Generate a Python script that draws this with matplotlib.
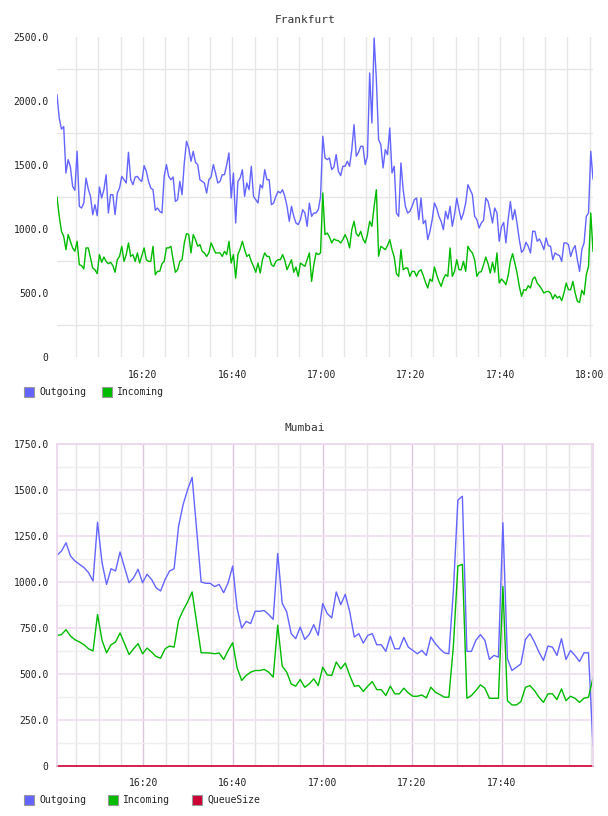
import numpy as np
import pandas as pd
import matplotlib
matplotlib.use("Agg")
import matplotlib.pyplot as plt
import matplotlib.dates as mdates
from matplotlib.patches import Rectangle
from matplotlib.ticker import MultipleLocator, FixedLocator, FuncFormatter

# ==========================
# Frankfurt: 30 s samples, 16:00:45 - 18:00:45
# ==========================
fra_times = pd.date_range("2014-01-01 16:00:45", "2014-01-01 18:00:45", periods=241)

fra_out = [
    2049, 1867, 1780, 1800, 1437, 1542, 1484, 1333, 1302, 1607,
    1177, 1164, 1203, 1398, 1313, 1255, 1112, 1190, 1104, 1328,
    1242, 1307, 1424, 1125, 1268, 1268, 1112, 1281, 1320, 1411,
    1385, 1359, 1599, 1385, 1346, 1406, 1411, 1385, 1372, 1495,
    1450, 1372, 1320, 1307, 1146, 1164, 1138, 1125, 1411, 1503,
    1411, 1385, 1406, 1216, 1229, 1372, 1268, 1516, 1685, 1633,
    1529,
    1607, 1521, 1503, 1385, 1372, 1359, 1281, 1385, 1406, 1503,
    1437, 1359, 1372, 1424, 1424, 1503, 1594, 1242, 1437, 1047,
    1372, 1398, 1463, 1255, 1359, 1307, 1490, 1255, 1229, 1203,
    1346, 1320, 1463, 1385, 1385, 1190, 1203, 1255, 1294, 1281,
    1307, 1255, 1177, 1060, 1177, 1099, 1047, 1034, 1073, 1151,
    1125, 1021, 1203, 1099, 1125, 1125, 1151, 1250, 1724, 1555,
    1542, 1555, 1464, 1484, 1581, 1451, 1417, 1490, 1490, 1529,
    1490, 1620, 1815, 1568, 1599, 1646, 1646, 1503, 1568, 2219,
    1828, 2492, 2167, 1698, 1659, 1477, 1620, 1581, 1789, 1438,
    1490, 1125, 1099, 1516, 1307, 1177, 1125, 1138, 1177, 1229,
    1242, 1073, 1242, 1042, 1068, 917, 982, 1073, 1203, 1164,
    1099, 1060, 995, 1138, 1078, 1177, 1021, 1112, 1242, 1151,
    1073, 1125, 1203, 1346, 1307, 1268, 1099, 1073, 1008, 1047,
    1068, 1242, 1216, 1138, 1047, 1164, 1125, 904, 1016, 1052,
    891, 1073, 1214, 1073, 1151, 1042, 917, 818, 839, 896,
    865, 813, 982, 982, 904, 922, 886, 839, 930, 870,
    865, 760, 813, 800, 792, 747, 891, 891, 878, 786,
    839, 870, 760, 669, 839, 891, 1099, 1125, 1607, 1391,
]

fra_in = [
    1250, 1099, 982, 943, 839, 956, 904, 852, 826, 904,
    721, 714, 688, 852, 852, 773, 695, 682, 651, 800,
    740, 781, 747, 729, 740, 714, 662, 760, 786, 865,
    747, 800, 891, 786, 800, 747, 813, 734, 792, 852,
    760, 747, 747, 865, 643, 669, 669, 729, 747, 852,
    852, 865, 760, 662, 682, 747, 760, 891, 964, 956,
    813,
    956, 917, 865, 878, 826, 813, 786, 813, 891, 852,
    813, 813, 813, 786, 826, 800, 904, 734, 800, 617,
    800, 844, 904, 839, 786, 800, 747, 708, 662, 734,
    656, 760, 813, 786, 786, 721, 708, 747, 760, 760,
    800, 755, 682, 721, 760, 662, 703, 630, 734, 721,
    708, 760, 813, 591, 721, 813, 800, 813, 1281, 956,
    969, 938, 891, 922, 912, 909, 891, 917, 956, 917,
    852, 995, 1060, 964, 943, 982, 922, 891, 956, 1060,
    1021, 1177, 1307, 787, 865, 852, 839, 870, 917, 839,
    779, 651, 630, 839, 682, 695, 695, 630, 669, 669,
    630, 669, 682, 636, 583, 539, 609, 591, 703, 643,
    591, 552, 609, 643, 630, 852, 630, 669, 760, 682,
    682, 747, 669, 865, 833, 813, 760, 630, 662, 667,
    721, 781, 729, 656, 740, 662, 813, 578, 609, 591,
    565, 635, 747, 807, 734, 656, 552, 474, 526, 521,
    557, 539, 609, 625, 578, 557, 531, 500, 510, 513,
    500, 453, 487, 461, 474, 440, 500, 578, 526, 526,
    591, 500, 435, 427, 521, 487, 643, 708, 1125, 826,
]

# ==========================
# Mumbai: ~1 min samples
# ==========================
mum_times = pd.date_range("2014-01-01 16:00:41", "2014-01-01 18:00:26", periods=120)

mum_out = [
    1146, 1168, 1213, 1141, 1114, 1096, 1078, 1051, 1005, 1325,
    1105, 987, 1072, 1060, 1163, 1078, 996, 1023, 1069, 996,
    1042, 1014, 969, 951, 1014, 1060, 1072, 1304, 1421, 1502,
    1569, 1285, 1000, 993, 993, 975, 987, 942, 996, 1087,
    855, 750, 786, 774, 841, 841, 845, 823, 797, 1155,
    885, 837, 719, 692, 755, 688, 715, 768, 710, 883,
    828, 805, 946, 877, 933, 837, 701, 719, 668, 710,
    719, 659, 659, 623, 705, 637, 637, 699, 646, 628,
    610, 628, 601, 701, 665, 637, 615, 610, 950, 1445,
    1466, 623, 623, 683, 714, 683, 579, 601, 592, 1322,
    583, 519, 537, 555, 688, 719, 674, 619, 574, 652,
    646, 601, 692, 579, 628, 601, 568, 615, 615, 110,
]

mum_in = [
    710, 714, 741, 706, 686, 674, 659, 637, 625, 823,
    683, 615, 659, 674, 723, 665, 606, 637, 665, 610,
    641, 619, 595, 586, 637, 652, 646, 792, 846, 892,
    946, 780, 615, 615, 614, 610, 614, 579, 628, 670,
    532, 465, 492, 510, 519, 519, 525, 510, 483, 765,
    543, 510, 446, 434, 470, 428, 446, 474, 437, 537,
    495, 492, 565, 528, 559, 492, 434, 437, 405, 434,
    459, 415, 415, 383, 434, 392, 392, 423, 397, 379,
    379, 386, 370, 428, 401, 388, 374, 374, 650, 1087,
    1096, 368, 383, 410, 441, 423, 368, 368, 368, 975,
    355, 332, 332, 350, 428, 437, 410, 374, 346, 392,
    392, 361, 419, 355, 379, 368, 346, 368, 374, 479,
]

mum_queue = [0] * 120

top_ticks = ["16:20", "16:40", "17:00", "17:20", "17:40", "18:00"]
bottom_ticks = ["16:20", "16:40", "17:00", "17:20", "17:40"]

BLUE = "#6464ff"
GREEN = "#00bb00"
RED = "#cc0033"
FONT = "DejaVu Sans Mono"

W, H = 608, 816
fig = plt.figure(figsize=(W / 100, H / 100), dpi=100)


def px_axes(l, t, r, b):
    return fig.add_axes([l / W, 1 - b / H, (r - l) / W, (b - t) / H])


def fmt_y(v, pos):
    return "0" if v == 0 else f"{v:.1f}"


def tick_times(labels):
    return [mdates.date2num(pd.Timestamp("2014-01-01 " + s)) for s in labels]


def legend_row(y, entries):
    for x, label, color in entries:
        fig.add_artist(Rectangle((x / W, 1 - (y + 5) / H), 10 / W, 10 / H,
                                 facecolor=color, edgecolor="#999999", lw=0.8,
                                 transform=fig.transFigure))
        fig.text((x + 15) / W, 1 - y / H, label, va="center", ha="left",
                 fontsize=7, family=FONT, color="#222222")


# ==========================
# Frankfurt
# ==========================
ax1 = px_axes(57, 37, 593, 357)
ax1.plot(fra_times, fra_out, color=BLUE, lw=1.0)
ax1.plot(fra_times, fra_in, color=GREEN, lw=1.0)
ax1.set_xlim(fra_times[0], fra_times[-1])
ax1.set_ylim(0, 2500)
ax1.yaxis.set_major_locator(MultipleLocator(500))
ax1.yaxis.set_minor_locator(FixedLocator([250, 750, 1250, 1750, 2250]))
ax1.yaxis.set_major_formatter(FuncFormatter(fmt_y))
ax1.xaxis.set_major_locator(FixedLocator(tick_times(top_ticks)))
ax1.xaxis.set_minor_locator(mdates.MinuteLocator(byminute=range(0, 60, 5)))
ax1.xaxis.set_major_formatter(mdates.DateFormatter("%H:%M"))
ax1.grid(which="minor", axis="y", color="#e6e6e6", lw=1.0)
ax1.grid(which="both", axis="x", color="#e6e6e6", lw=1.0)
ax1.set_axisbelow(True)
for s in ax1.spines.values():
    s.set_visible(False)

# ==========================
# Mumbai
# ==========================
ax2 = px_axes(57, 444, 593, 766)
ax2.plot(mum_times, mum_out, color=BLUE, lw=1.0)
ax2.plot(mum_times, mum_in, color=GREEN, lw=1.0)
ax2.plot(mum_times, mum_queue, color=RED, lw=1.2, clip_on=False)
ax2.set_xlim(mum_times[0], mum_times[-1])
ax2.set_ylim(0, 1750)
ax2.yaxis.set_major_locator(MultipleLocator(250))
ax2.yaxis.set_minor_locator(MultipleLocator(125))
ax2.yaxis.set_major_formatter(FuncFormatter(fmt_y))
ax2.xaxis.set_major_locator(FixedLocator(tick_times(bottom_ticks)))
ax2.xaxis.set_minor_locator(mdates.MinuteLocator(byminute=range(0, 60, 5)))
ax2.xaxis.set_major_formatter(mdates.DateFormatter("%H:%M"))
ax2.grid(which="major", axis="y", color="#f0dff0", lw=1.3)
ax2.grid(which="minor", axis="y", color="#f0eef0", lw=1.0)
ax2.grid(which="major", axis="x", color="#dcc6dc", lw=1.0)
ax2.grid(which="minor", axis="x", color="#e6e2e6", lw=1.0)
ax2.set_axisbelow(True)
for side in ["left", "right", "top"]:
    ax2.spines[side].set_color("#ecd4ec")
    ax2.spines[side].set_linewidth(1.2)
ax2.spines["bottom"].set_visible(False)

for ax in (ax1, ax2):
    ax.tick_params(which="both", length=0, labelsize=7, colors="#222222")
    ax.tick_params(axis="y", pad=6)
    ax.tick_params(axis="x", pad=9)
    for lab in ax.get_xticklabels() + ax.get_yticklabels():
        lab.set_family(FONT)

fig.text(305 / W, 1 - 20 / H, "Frankfurt", ha="center", va="center",
         fontsize=8, family=FONT, color="#333333")
fig.text(305 / W, 1 - 428 / H, "Mumbai", ha="center", va="center",
         fontsize=8, family=FONT, color="#333333")

legend_row(392, [(24, "Outgoing", BLUE), (102, "Incoming", GREEN)])
legend_row(800, [(24, "Outgoing", BLUE), (108, "Incoming", GREEN), (192, "QueueSize", RED)])

fig.savefig("out.png", dpi=100, facecolor="white")
